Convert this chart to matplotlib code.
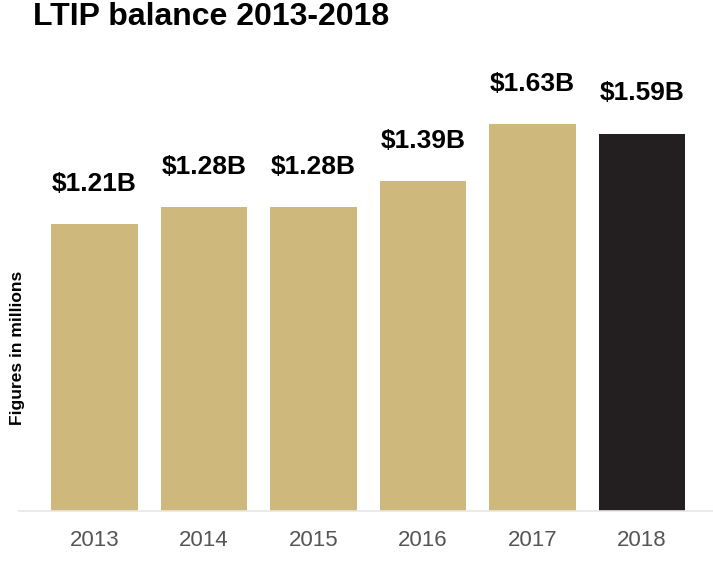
import matplotlib.pyplot as plt

years = ['2013', '2014', '2015', '2016', '2017', '2018']
balance = [1.21, 1.28, 1.28, 1.39, 1.63, 1.59]
labels = ['$1.21B', '$1.28B', '$1.28B', '$1.39B', '$1.63B', '$1.59B']
colors = ['#CFB87C'] * 5 + ['#231F20']

plt.rcParams['font.family'] = ['Liberation Sans', 'DejaVu Sans']

fig = plt.figure(figsize=(7.13, 5.71), dpi=100)
ax = fig.add_axes([19 / 713, 1 - 511 / 571, 1 - 19 / 713, 420 / 571])

x = range(len(years))
ax.bar(x, balance, width=0.79, color=colors)
ax.set_xlim(-0.69, 5.65)
ax.set_ylim(0, 420 / 237.3)

for i, (v, t) in enumerate(zip(balance, labels)):
    ax.annotate(t, (i, v), xytext=(0, 29), textcoords='offset points',
                ha='center', va='center', fontsize=19, fontweight='bold')

ax.set_xticks(list(x))
ax.set_xticklabels(years, fontsize=16, color='#555555')
ax.tick_params(axis='x', length=0, pad=14)
ax.set_yticks([])
for s in ['top', 'right', 'left']:
    ax.spines[s].set_visible(False)
ax.spines['bottom'].set_color('#e6e6e6')
ax.spines['bottom'].set_linewidth(1.2)

fig.text(18 / 713, 1 - 348 / 571, 'Figures in millions', rotation=90,
         ha='center', va='center', fontsize=12.5, fontweight='bold')
fig.text(33 / 713, 1 - 17 / 571, 'LTIP balance 2013-2018', ha='left',
         va='center', fontsize=23, fontweight='bold')

fig.savefig('out.png', dpi=100)
